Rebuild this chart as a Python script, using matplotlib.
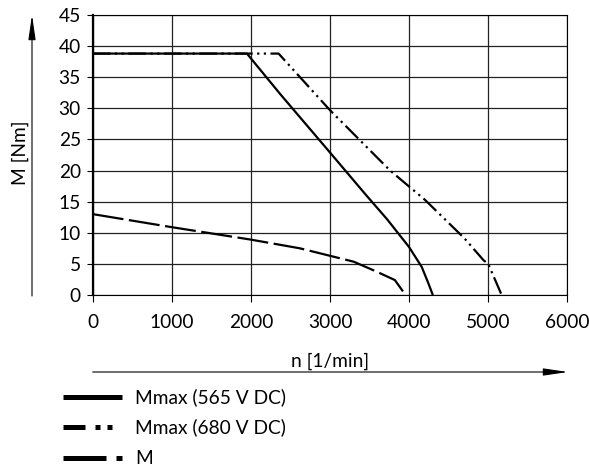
import matplotlib.pyplot as plt
from matplotlib.lines import Line2D

plt.rcParams['font.family'] = ['Lato', 'DejaVu Sans']
plt.rcParams['font.size'] = 13.8

# curve data
n_565 = [0, 1950, 2370, 3000, 3460, 3720, 4000, 4160, 4240, 4300]
m_565 = [38.8, 38.8, 32.3, 22.9, 16.0, 12.2, 7.7, 4.5, 2.0, 0]

n_680 = [0, 2350, 3000, 3760, 4200, 4700, 4940, 5000, 5170]
m_680 = [38.8, 38.8, 29.7, 20.0, 15.3, 9.1, 5.6, 5.0, 0]

n_m = [0, 1000, 2000, 2620, 3000, 3300, 3590, 3820, 3955]
m_m = [13.0, 10.9, 8.9, 7.5, 6.3, 5.35, 3.75, 2.4, 0]

x_ticks = [0, 1000, 2000, 3000, 4000, 5000, 6000]
y_ticks = [0, 5, 10, 15, 20, 25, 30, 35, 40, 45]
labels = ['Mmax (565 V DC)', 'Mmax (680 V DC)', 'M']

W, H = 589, 472
fig = plt.figure(figsize=(W / 100, H / 100), dpi=100)
ax = fig.add_axes([92.7 / W, 1 - 295 / H, (567.3 - 92.7) / W, (295 - 15) / H])

lw = 1.6
ax.plot(n_565, m_565, color='black', lw=lw, solid_capstyle='butt', clip_on=False)
ax.plot(n_680, m_680, color='black', lw=lw, ls=(0, (8, 2, 1, 2, 1, 2)),
        dash_capstyle='butt', clip_on=False)
ax.plot(n_m, m_m, color='black', lw=lw, ls=(0, (14, 2.5)),
        dash_capstyle='butt', clip_on=False)

ax.set_xlim(0, 6000)
ax.set_ylim(0, 45)
ax.set_xticks(x_ticks)
ax.set_yticks(y_ticks)
ax.grid(True, color='#222222', lw=0.9)
ax.set_axisbelow(True)
ax.tick_params(axis='x', direction='out', length=5, width=0.8, pad=9)
ax.tick_params(axis='y', direction='out', length=4.5, width=0.8, pad=4)
for side in ['top', 'right', 'bottom']:
    ax.spines[side].set_linewidth(0.8)
ax.spines['left'].set_linewidth(1.6)

# axis labels with arrows
fig.text(20 / W, 1 - 153 / H, 'M [Nm]', rotation=90, ha='center', va='center')
fig.text(330 / W, 1 - 361 / H, 'n [1/min]', ha='center', va='center')
arrow = dict(arrowstyle='-|>,head_length=15,head_width=2.2', color='black',
             lw=0.8, shrinkA=0, shrinkB=0, mutation_scale=1)
ax.annotate('', xy=(568, H - 372), xytext=(92.7, H - 372),
            xycoords='figure pixels', textcoords='figure pixels', arrowprops=arrow)
ax.annotate('', xy=(32, H - 15), xytext=(32, H - 296),
            xycoords='figure pixels', textcoords='figure pixels', arrowprops=arrow)

# legend drawn below the plot
styles = ['-', (0, (4.4, 2.0, 1.0, 1.4, 1.0)), (0, (8.6, 2.0, 1.2))]
rows = [397, 427, 458]
for lab, st, y in zip(labels, styles, rows):
    fig.add_artist(Line2D([63 / W, 122 / W], [1 - y / H, 1 - y / H],
                          transform=fig.transFigure, color='black', lw=3.6,
                          ls=st, solid_capstyle='butt', dash_capstyle='butt'))
    fig.text(135 / W, 1 - y / H, lab, ha='left', va='center')

fig.savefig('out.png', dpi=100)
